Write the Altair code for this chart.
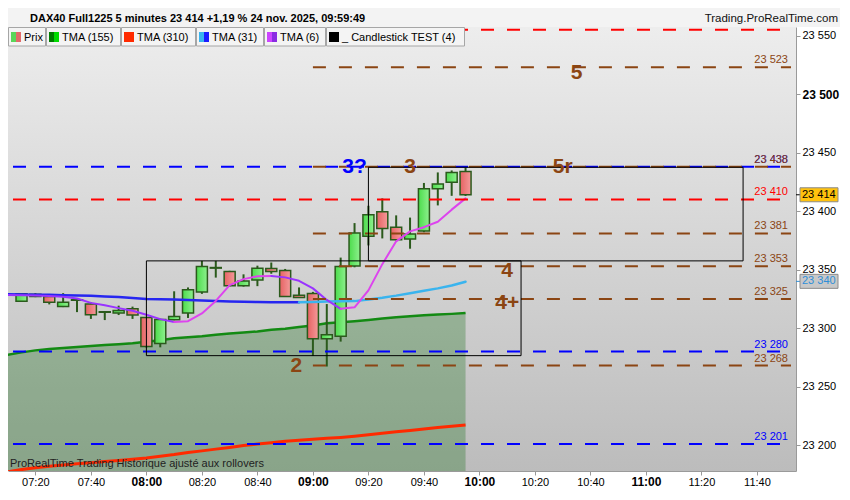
import pandas as pd
import altair as alt

FONT = "Liberation Sans"
W, H = 788, 444  # plot area, axis + title bar go in the padding

## Price bars, 5 minutes, 07:15 -> 09:55
bar_times = ["07:15", "07:20", "07:25", "07:30", "07:35", "07:40", "07:45", "07:50", "07:55",
             "08:00", "08:05", "08:10", "08:15", "08:20", "08:25", "08:30", "08:35", "08:40",
             "08:45", "08:50", "08:55", "09:00", "09:05", "09:10", "09:15", "09:20", "09:25",
             "09:30", "09:35", "09:40", "09:45", "09:50", "09:55"]
opens = [23323.0, 23329.0, 23327.1, 23318.6, 23323.8, 23320.6, 23313.6, 23312.9, 23316.5, 23309.1,
         23286.9, 23307.1, 23312.9, 23330.9, 23351.3, 23348.5, 23336.2, 23341.1, 23351.0, 23349.3,
         23328.2, 23329.6, 23291.0, 23293.1, 23353.1, 23378.6, 23399.4, 23386.3, 23376.1, 23383.0,
         23419.1, 23424.6, 23433.9]
highs = [23330.0, 23330.0, 23328.0, 23329.9, 23324.5, 23322.0, 23314.3, 23319.2, 23318.4, 23309.5,
         23308.0, 23331.5, 23334.8, 23357.5, 23357.5, 23349.0, 23346.0, 23353.4, 23356.1, 23350.6,
         23334.8, 23331.0, 23320.6, 23360.3, 23389.8, 23404.6, 23410.9, 23396.4, 23394.5, 23424.1,
         23433.1, 23434.8, 23437.5]
lows = [23322.5, 23326.5, 23320.3, 23318.0, 23313.7, 23307.9, 23306.9, 23311.2, 23307.9, 23283.5,
        23283.6, 23306.8, 23308.7, 23329.3, 23343.2, 23335.8, 23335.5, 23335.9, 23346.5, 23326.8,
        23325.8, 23276.2, 23267.2, 23288.5, 23352.0, 23370.7, 23376.7, 23375.0, 23367.9, 23382.0,
        23404.9, 23413.1, 23413.0]
closes = [23329.3, 23327.0, 23322.2, 23322.2, 23324.2, 23311.5, 23314.0, 23315.1, 23311.2, 23284.4,
          23307.4, 23309.9, 23332.9, 23352.6, 23351.8, 23336.2, 23340.3, 23351.2, 23348.5, 23327.1,
          23326.3, 23291.0, 23294.3, 23352.6, 23381.4, 23397.0, 23385.1, 23375.6, 23380.5, 23419.1,
          23423.3, 23433.1, 23414.0]

## Moving averages (first value = 07:10, just left of the frame)
ma_times = ["07:10"] + bar_times
tma155 = [23277.3, 23279.3, 23281.0, 23282.2, 23283.0, 23283.9, 23284.7, 23285.5, 23286.3, 23287.1,
          23288.4, 23289.6, 23291.4, 23292.2, 23293.1, 23294.3, 23295.4, 23296.3, 23297.2, 23298.6,
          23299.5, 23300.9, 23302.3, 23304.1, 23305.0, 23305.9, 23307.0, 23308.3, 23309.3, 23310.1,
          23311.0, 23311.6, 23312.2, 23312.9]
tma310 = [23177.1, 23179.1, 23180.7, 23182.0, 23183.1, 23184.0, 23185.0, 23186.1, 23186.9, 23187.9,
          23189.0, 23190.6, 23192.0, 23193.7, 23195.1, 23196.6, 23198.0, 23199.6, 23200.9, 23202.1,
          23203.4, 23204.2, 23205.0, 23205.8, 23206.6, 23207.6, 23208.8, 23210.1, 23211.4, 23212.5,
          23213.8, 23215.0, 23216.1, 23217.3]
tma31 = [23328.9, 23328.8, 23328.6, 23328.5, 23328.2, 23328.0, 23327.6, 23327.1, 23326.6, 23325.7,
         23324.9, 23324.7, 23324.4, 23324.1, 23323.7, 23323.3, 23322.8, 23322.5, 23322.3, 23322.2,
         23322.15, 23322.1, 23322.4, 23322.7, 23322.9, 23323.1, 23324.5, 23326.0, 23327.8, 23329.9,
         23331.9, 23334.0, 23336.4, 23339.7]
tma6 = [23328.4, 23328.2, 23328.0, 23327.4, 23326.8, 23325.3, 23321.6, 23319.6, 23317.1, 23314.8,
        23311.4, 23307.7, 23305.2, 23306.0, 23312.6, 23323.3, 23336.8, 23341.9, 23344.4, 23344.6,
        23343.4, 23340.5, 23334.0, 23324.1, 23316.5, 23317.8, 23332.3, 23354.7, 23374.2, 23382.7,
        23386.3, 23390.9, 23401.3, 23410.9]

## Frame of the chart (clock times, price)
T_LEFT, T_RIGHT = "07:11:56", "11:52:16"
Y_BOTTOM, Y_TOP = 23177.9, 23557.4
x_ticks = ["07:20", "07:40", "08:00", "08:20", "08:40", "09:00", "09:20", "09:40",
           "10:00", "10:20", "10:40", "11:00", "11:20", "11:40"]
y_ticks = [23200, 23250, 23300, 23350, 23400, 23450, 23500, 23550]

## Levels of the "Candlestick TEST" indicator
level_values = [23555, 23523, 23438, 23438, 23410, 23381, 23353, 23325, 23280, 23268, 23201]
level_kinds = ["red", "brown", "blue", "brown", "red", "brown", "brown", "brown", "blue", "brown", "blue"]
level_from = [T_LEFT, "09:00", T_LEFT, "09:00", T_LEFT, "09:00", "09:00", "09:00", T_LEFT, "09:00", T_LEFT]

box_from = ["08:00", "09:20"]
box_to = ["10:15", "11:35"]
box_low = [23276.5, 23357.5]
box_high = [23357.5, 23437.5]

pattern_texts = ["3?", "3", "5r", "5", "4", "4+", "2"]
pattern_times = ["09:15", "09:35", "10:30", "10:35", "10:10", "10:10", "08:54"]
pattern_values = [23432.5, 23432.5, 23432.5, 23513.0, 23343.8, 23316.7, 23262.5]
pattern_kinds = ["blue", "brown", "brown", "brown", "brown", "brown", "brown"]

## Right axis tags
tag_values = [23414, 23340]
tag_fills = ["#ffc20e", "#c8c8c8"]
tag_inks = ["#000000", "#2f8fd8"]

title_text = "DAX40 Full1225 5 minutes 23 414 +1,19 % 24 nov. 2025, 09:59:49"
site_text = "Trading.ProRealTime.com"
note_text = "ProRealTime Trading  Historique ajusté aux rollovers"
legend_names = ["Prix", "TMA (155)", "TMA (310)", "TMA (31)", "TMA (6)", "_ Candlestick TEST (4)"]
legend_swatches = [("#5ad65a", "#e26a6a"), ("#007c00", "#00dc00"), ("#ff2a00", "#ff2a00"),
                   ("#3ab4ee", "#1c1cff"), ("#cc44ff", "#8a2be2"), ("#000000", "#000000")]
legend_edges = [0, 38, 113, 188, 256, 318, 457]

KIND = {"red": "#ff0000", "brown": "#8b4513", "blue": "#0000ff"}
EDGE = "#2b5a1c"


def mins(clock):
    # "HH:MM" or "HH:MM:SS" -> minutes after midnight
    parts = [int(p) for p in clock.split(":")] + [0]
    return parts[0] * 60 + parts[1] + parts[2] / 60


def coloured_runs(values, rising, falling, name):
    # split a line in runs coloured by slope, like PRT does
    rows, run, prev = [], 0, None
    for k in range(1, len(values)):
        colour = rising if values[k] >= values[k - 1] else falling
        if prev is not None and colour != prev:
            run += 1
        prev = colour
        for j in (k - 1, k):
            rows.append({"m": mins(ma_times[j]), "v": values[j], "seg": f"{name}{run}", "col": colour})
    return pd.DataFrame(rows)


def gradient(c0, c1, vertical=False):
    return alt.LinearGradient(gradient="linear", x1=0, y1=0, x2=0 if vertical else 1, y2=1 if vertical else 0,
                              stops=[alt.GradientStop(color=c0, offset=0), alt.GradientStop(color=c1, offset=1)])


## Tables
candles = pd.DataFrame({"m": [mins(s) for s in bar_times], "open": opens, "high": highs,
                        "low": lows, "close": closes})
mas = pd.DataFrame({"m": [mins(s) for s in ma_times], "tma155": tma155, "tma310": tma310})
levels = pd.DataFrame({
    "v": level_values,
    "col": [KIND[k] for k in level_kinds],
    "m0": [mins(s) for s in level_from],
    "m1": mins(T_RIGHT),
})
boxes = pd.DataFrame({"m0": [mins(s) for s in box_from], "m1": [mins(s) for s in box_to],
                      "lo": box_low, "hi": box_high})
patterns = pd.DataFrame({"m": [mins(s) for s in pattern_times], "v": pattern_values,
                         "txt": pattern_texts, "col": [KIND[k] for k in pattern_kinds]})
tags = pd.DataFrame({"v": tag_values, "bg": tag_fills, "fg": tag_inks})
one = pd.DataFrame({"a": [0]})

## Scales and axes
clock_expr = ("(datum.value < 600 ? '0' : '') + floor(datum.value / 60) + ':' + "
              "(datum.value % 60 < 10 ? '0' : '') + (datum.value % 60)")
bold_hour = "datum.value % 60 == 0"
x_axis = alt.Axis(values=[mins(s) for s in x_ticks], labelExpr=clock_expr, title=None,
                  grid=False, domainColor="#9a9a9a", tickColor="#9a9a9a", tickSize=4,
                  labelPadding=1, labelFlush=False, labelOverlap=False, labelFont=FONT,
                  labelColor="#000000",
                  labelFontSize={"condition": {"test": bold_hour, "value": 12}, "value": 11},
                  labelFontWeight={"condition": {"test": bold_hour, "value": "bold"}, "value": "normal"})
bold_price = "datum.value % 500 == 0"
y_axis = alt.Axis(orient="right", values=y_ticks, title=None, grid=False,
                  labelExpr="replace(format(datum.value, ','), ',', ' ')",
                  domainColor="#9a9a9a", tickColor="#9a9a9a", tickSize=4, labelPadding=2,
                  labelFont=FONT, labelColor="#000000",
                  labelFontSize={"condition": {"test": bold_price, "value": 12}, "value": 11},
                  labelFontWeight={"condition": {"test": bold_price, "value": "bold"}, "value": "normal"})
x_scale = alt.Scale(domain=[mins(T_LEFT), mins(T_RIGHT)], zero=False, nice=False)
y_scale = alt.Scale(domain=[Y_BOTTOM, Y_TOP], zero=False, nice=False)


def X(field):
    return alt.X(field, type="quantitative", scale=x_scale, axis=x_axis)


def Y(field):
    return alt.Y(field, type="quantitative", scale=y_scale, axis=y_axis)


## Layers
# plain grey underneath, the light-to-dark gradient of PRT on top of it
plot_base = alt.Chart(one).mark_rect(fill="#d6d6d6").encode(
    x=alt.value(0), x2=alt.value(W), y=alt.value(0), y2=alt.value(H))
plot_bg = alt.Chart(one).mark_rect(color=gradient("#ededed", "#bcbcbc", vertical=True)).encode(
    x=alt.value(0), x2=alt.value(W), y=alt.value(0), y2=alt.value(H))

fill155 = alt.Chart(mas).mark_area(clip=True, color="#006400", opacity=0.27).encode(
    x=X("m"), y=Y("tma155"), y2=alt.datum(Y_BOTTOM))
line310 = alt.Chart(mas).mark_line(clip=True, color="#ff2a00", strokeWidth=3).encode(x=X("m"), y=Y("tma310"))
line155 = alt.Chart(mas).mark_line(clip=True, color="#138a13", strokeWidth=2.5).encode(x=X("m"), y=Y("tma155"))

wicks = alt.Chart(candles).mark_rule(color=EDGE, strokeWidth=2).encode(x=X("m"), y=Y("low"), y2="high")
up_bodies = alt.Chart(candles).transform_filter("datum.close >= datum.open").mark_bar(
    size=11, color=gradient("#4cdc4c", "#8ef08e"), stroke=EDGE, strokeWidth=1.5
).encode(x=X("m"), y=Y("open"), y2="close")
down_bodies = alt.Chart(candles).transform_filter("datum.close < datum.open").mark_bar(
    size=11, color=gradient("#e66262", "#f49a9a"), stroke=EDGE, strokeWidth=1.5
).encode(x=X("m"), y=Y("open"), y2="close")


def ma_line(df, width):
    return alt.Chart(df).mark_line(clip=True, strokeWidth=width, strokeCap="round", strokeJoin="round").encode(
        x=X("m"), y=Y("v"), detail="seg:N", color=alt.Color("col:N", scale=None))


line31 = ma_line(coloured_runs(tma31, "#3ab4ee", "#2626f0", "a"), 2.5)
line6 = ma_line(coloured_runs(tma6, "#dd44ee", "#9933ff", "b"), 2)

level_rules = alt.Chart(levels).mark_rule(clip=True, strokeWidth=2, strokeDash=[13, 13]).encode(
    x=X("m0"), x2="m1", y=Y("v"), color=alt.Color("col:N", scale=None))
level_labels = alt.Chart(levels).transform_filter("datum.v < 23550").transform_calculate(
    lab="replace(format(datum.v, ','), ',', ' ')"
).mark_text(align="right", baseline="alphabetic", dx=-3, dy=-4, font=FONT, fontSize=11).encode(
    x=X("m1"), y=Y("v"), text="lab:N", color=alt.Color("col:N", scale=None))

box_marks = alt.Chart(boxes).mark_rect(fillOpacity=0, stroke="#000000", strokeWidth=1).encode(
    x=X("m0"), x2="m1", y=Y("lo"), y2="hi")

pattern_marks = alt.Chart(patterns).mark_text(align="center", baseline="alphabetic", font=FONT,
                                              fontSize=21, fontWeight="bold").encode(
    x=X("m"), y=Y("v"), text="txt:N", color=alt.Color("col:N", scale=None))

note = alt.Chart(one).mark_text(text=note_text, align="left", baseline="alphabetic", font=FONT,
                                fontSize=11, color="#222222").encode(x=alt.value(2), y=alt.value(H - 4))

title_bg = alt.Chart(one).mark_rect(fill="#f3f3f3").encode(
    x=alt.value(0), x2=alt.value(W + 44), y=alt.value(-19), y2=alt.value(0))
title = alt.Chart(one).mark_text(text=title_text, align="left", baseline="alphabetic", font=FONT,
                                 fontSize=11, fontWeight="bold", color="#000000").encode(
    x=alt.value(22), y=alt.value(-5))
site = alt.Chart(one).mark_text(text=site_text, align="right", baseline="alphabetic", font=FONT,
                                fontSize=11.5, color="#111111").encode(x=alt.value(W + 42), y=alt.value(-5))

legend_layers = []
for name, (c1, c2), left, right in zip(legend_names, legend_swatches, legend_edges[:-1], legend_edges[1:]):
    legend_layers += [
        alt.Chart(one).mark_rect(fill="#f4f4f4", stroke="#a6a6a6", strokeWidth=1).encode(
            x=alt.value(left + 0.5), x2=alt.value(right - 0.5), y=alt.value(0.5), y2=alt.value(19)),
        alt.Chart(one).mark_rect(fill=c1).encode(
            x=alt.value(left + 3), x2=alt.value(left + 8), y=alt.value(5), y2=alt.value(15)),
        alt.Chart(one).mark_rect(fill=c2).encode(
            x=alt.value(left + 8), x2=alt.value(left + 13), y=alt.value(5), y2=alt.value(15)),
        alt.Chart(one).mark_text(text=name, align="left", baseline="alphabetic", font=FONT,
                                 fontSize=11, color="#000000").encode(x=alt.value(left + 16), y=alt.value(14)),
    ]

tag_ticks = alt.Chart(tags).mark_rule(strokeWidth=1).encode(
    x=alt.value(W), x2=alt.value(W + 4), y=Y("v"), color=alt.Color("fg:N", scale=None))
tag_boxes = alt.Chart(tags).mark_rect(yOffset=-7, y2Offset=7, stroke="#8c8c8c", strokeWidth=1).encode(
    x=alt.value(W + 4), x2=alt.value(W + 42), y=Y("v"), y2="v", fill=alt.Fill("bg:N", scale=None))
tag_texts = alt.Chart(tags).transform_calculate(
    lab="replace(format(datum.v, ','), ',', ' ')"
).mark_text(align="left", baseline="middle", font=FONT, fontSize=11).encode(
    x=alt.value(W + 6), y=Y("v"), text="lab:N", color=alt.Color("fg:N", scale=None))

chart = alt.layer(
    plot_base, plot_bg, fill155, line310, line155, wicks, up_bodies, down_bodies, line31, line6,
    level_rules, box_marks, level_labels, pattern_marks, note, title_bg, title, site,
    *legend_layers, tag_ticks, tag_boxes, tag_texts
).properties(
    width=W, height=H,
    padding={"left": 0, "top": 19, "right": 44, "bottom": 17},
    autosize=alt.AutoSizeParams(type="none"),
    background="#ffffff",
).configure_view(stroke="transparent")

chart.save("out.html", embed_options={"renderer": "svg", "actions": False})
